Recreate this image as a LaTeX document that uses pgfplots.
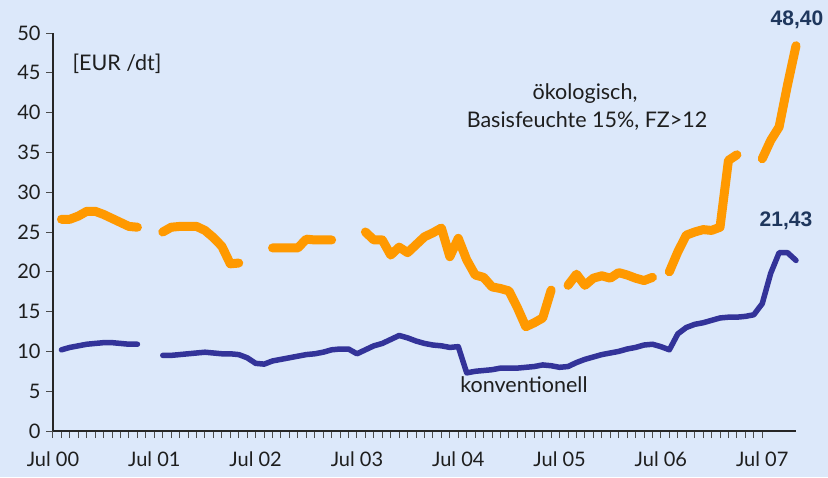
\documentclass[border=0pt]{standalone}
\usepackage{pgfplots}
\pgfplotsset{compat=1.18}
\usepackage{fontspec}
\setmainfont{Lato}
\newfontfamily\arialfont{Liberation Sans}
\definecolor{bg}{RGB}{220,232,250}
\definecolor{oeko}{RGB}{255,153,0}
\definecolor{konv}{RGB}{51,51,153}
\definecolor{navy}{RGB}{31,55,93}
\definecolor{txt}{RGB}{30,30,30}
\pgfplotstableread{
m oeko konv
1 26.6 10.2
2 26.6 10.5
3 27.0 10.7
4 27.6 10.9
5 27.6 11.0
6 27.2 11.1
7 26.7 11.1
8 26.2 11.0
9 25.7 10.9
10 25.6 10.9
11 nan nan
12 nan nan
13 25.0 9.5
14 25.6 9.5
15 25.7 9.6
16 25.7 9.7
17 25.7 9.8
18 25.2 9.9
19 24.3 9.8
20 23.2 9.7
21 21.0 9.7
22 21.1 9.6
23 nan 9.2
24 nan 8.5
25 nan 8.4
26 23.0 8.8
27 23.0 9.0
28 23.0 9.2
29 23.0 9.4
30 24.1 9.6
31 24.0 9.7
32 24.0 9.9
33 24.0 10.2
34 nan 10.3
35 nan 10.3
36 nan 9.7
37 25.0 10.2
38 24.0 10.7
39 24.0 11.0
40 22.1 11.5
41 23.1 12.0
42 22.4 11.7
43 23.4 11.3
44 24.4 11.0
45 24.9 10.8
46 25.5 10.7
47 21.9 10.5
48 24.2 10.6
49 21.5 7.3
50 19.6 7.5
51 19.3 7.6
52 18.1 7.7
53 17.9 7.9
54 17.6 7.9
55 15.5 7.9
56 13.1 8.0
57 13.6 8.1
58 14.2 8.3
59 17.7 8.2
60 nan 8.0
61 18.3 8.1
62 19.7 8.6
63 18.3 9.0
64 19.2 9.3
65 19.5 9.6
66 19.2 9.8
67 19.9 10.0
68 19.6 10.3
69 19.2 10.5
70 18.9 10.8
71 19.3 10.9
72 nan 10.6
73 20.0 10.2
74 22.5 12.2
75 24.6 13.0
76 25.0 13.4
77 25.3 13.6
78 25.2 13.9
79 25.6 14.2
80 34.0 14.3
81 34.7 14.3
82 nan 14.4
83 nan 14.6
84 34.2 16.0
85 36.5 19.8
86 38.2 22.4
87 43.5 22.4
88 48.4 21.43
}\datatable
\begin{document}
\begin{tikzpicture}[x=1pt,y=1pt]
\useasboundingbox (0,0) rectangle (828,477);
\fill[bg] (0,0) rectangle (828,477);
\begin{axis}[
  at={(53pt,46pt)}, anchor=south west,
  scale only axis, width=743pt, height=398pt,
  xmin=0, xmax=88, ymin=0, ymax=50,
  axis x line=bottom, axis y line=left,
  axis line style={-, line width=1.2pt, black!85},
  tick align=outside,
  major tick length=7pt, minor tick length=7pt,
  tick style={line width=1pt, black!70},
  xtick={0,12,...,84},
  xticklabels={Jul 00,Jul 01,Jul 02,Jul 03,Jul 04,Jul 05,Jul 06,Jul 07},
  minor x tick num=11,
  ytick={0,5,...,50},
  /pgf/number format/assume math mode=true,
  tick label style={font=\fontsize{20}{24}\selectfont, text=txt},
  xticklabel style={yshift=-10pt},
  yticklabel style={xshift=-2pt},
  unbounded coords=jump,
  clip=false,
]
\addplot[oeko, line width=9pt, line join=round, line cap=round] table[x=m, y=oeko] {\datatable};
\addplot[konv, line width=5.5pt, line join=round, line cap=round] table[x=m, y=konv] {\datatable};
\end{axis}
\begin{scope}[every node/.style={font=\fontsize{21.5}{25}\selectfont, text=txt, inner sep=0pt}]
\node[anchor=base] at (117,406) {[EUR /dt]};
\node[anchor=base] at (585,377) {ökologisch,};
\node[anchor=base] at (587,349) {Basisfeuchte 15\%, FZ>12};
\node[anchor=base] at (524,84) {konventionell};
\end{scope}
\node[anchor=base, inner sep=0pt, text=navy, font=\arialfont\bfseries\fontsize{21}{24}\selectfont] at (797,451) {48,40};
\node[anchor=base, inner sep=0pt, text=navy, font=\arialfont\bfseries\fontsize{21}{24}\selectfont] at (786,250) {21,43};
\end{tikzpicture}
\end{document}
